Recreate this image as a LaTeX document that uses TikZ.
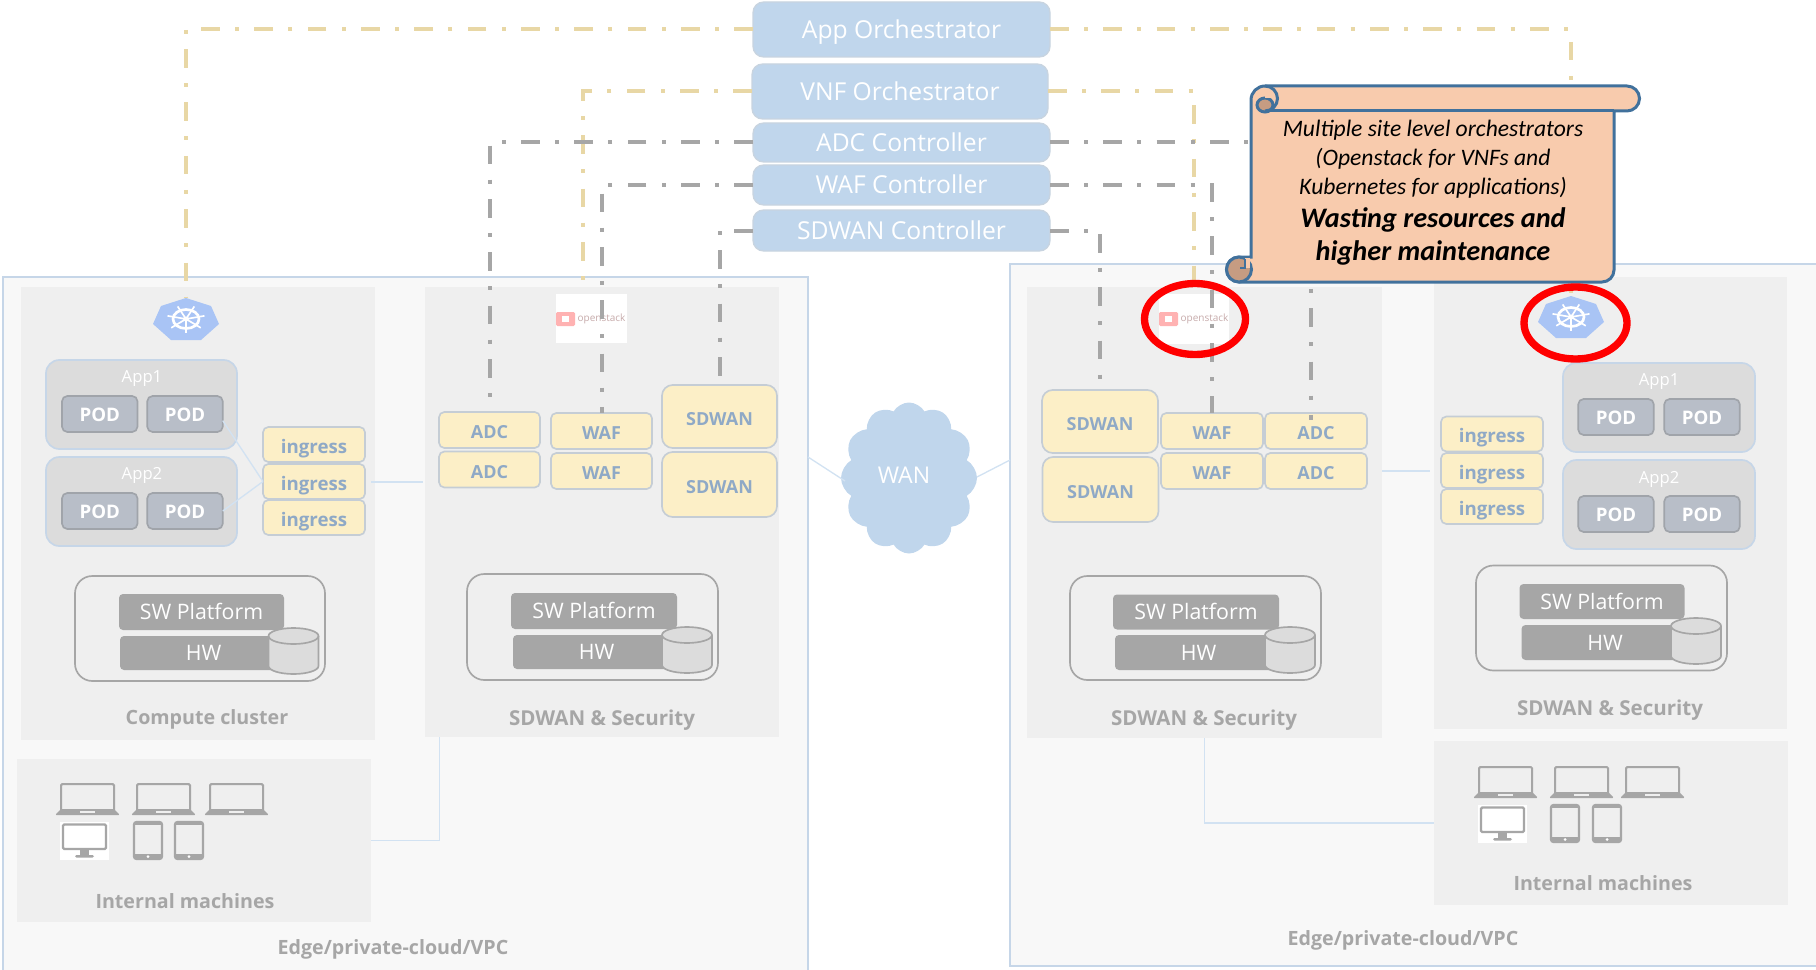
\documentclass[tikz,border=0pt]{standalone}
\usepackage{fontspec}
\setmainfont{Open Sans}
\newfontfamily\notefont{Carlito}
\usetikzlibrary{shapes.geometric,shapes.symbols}
\definecolor{edgefill}{HTML}{F8F8F8}
\definecolor{edgeline}{HTML}{C6D6E8}
\definecolor{panelfill}{HTML}{EFEFEF}
\definecolor{ctrlfill}{HTML}{C0D6EC}
\definecolor{ctrlline}{HTML}{C8D4E0}
\definecolor{vnffill}{HTML}{FCEFC7}
\definecolor{vnfline}{HTML}{C5CDD5}
\definecolor{vnftext}{HTML}{8FA9C6}
\definecolor{appfill}{HTML}{DCDCDC}
\definecolor{podfill}{HTML}{B8BEC8}
\definecolor{podline}{HTML}{A0A4AA}
\definecolor{graybox}{HTML}{A6A6A6}
\definecolor{orchline}{HTML}{E8D7A5}
\definecolor{linkline}{HTML}{D2E2F2}
\definecolor{notefill}{HTML}{F8CBAD}
\definecolor{noteline}{HTML}{41719C}
\definecolor{notefold}{HTML}{C69C82}
\definecolor{kubefill}{HTML}{A9C4F5}
\tikzset{
  wh/.style 2 args={minimum width=#1*.75pt, minimum height=#2*.75pt},
  base/.style={rectangle, inner sep=0pt, outer sep=0pt},
  edgebox/.style={base, fill=edgefill, draw=edgeline, line width=1.5pt},
  panel/.style={base, fill=panelfill},
  ctrlbox/.style={base, rounded corners=8pt, fill=ctrlfill, draw=ctrlline, line width=1pt, text=white, text height=13.5pt, text depth=0pt, font=\fontsize{18.5}{22}\selectfont},
  vnfbox/.style={base, rounded corners=4pt, fill=vnffill, draw=vnfline, line width=1.25pt, text=vnftext, text height=13pt, text depth=0pt, font=\fontsize{13.5}{16}\selectfont\bfseries},
  ingressbox/.style={vnfbox, wh={102}{35}, text height=13pt, font=\fontsize{14}{16}\selectfont\bfseries},
  appbox/.style={base, rounded corners=10pt, fill=appfill, draw=edgeline, line width=1.25pt},
  podbox/.style={base, rounded corners=4pt, fill=podfill, draw=podline, line width=1.25pt, text=white, text height=11.7pt, text depth=0pt, font=\fontsize{14}{16}\selectfont\bfseries, wh={75.5}{36}},
  applabel/.style={base, text=white, text height=9pt, text depth=0pt, font=\fontsize{12.5}{15}\selectfont},
  platform/.style={base, rounded corners=13pt, draw=graybox, line width=1.25pt, wh={250}{105}},
  swbox/.style={base, rounded corners=3pt, fill=graybox, text=white, text height=11.4pt, text depth=0pt, font=\fontsize{16}{19}\selectfont, wh={165}{35}},
  sitelabel/.style={base, text=graybox, text height=10.5pt, text depth=0pt, font=\fontsize{14.75}{17}\selectfont\bfseries},
  seclabel/.style={sitelabel, font=\fontsize{15.4}{18}\selectfont\bfseries},
  orch/.style={orchline, line width=3pt, dash pattern=on 14pt off 11.5pt on 3pt off 11.5pt},
  ctrl/.style={graybox, line width=3pt, dash pattern=on 14pt off 11.5pt on 3pt off 11.5pt},
  link/.style={linkline, line width=1pt},
  scrollline/.style={draw=noteline, line width=2.25pt},
  redmark/.style={ellipse, draw=red, line width=5.5pt, inner sep=0pt},
  logo/.style={base},
}
\newcommand{\kubelogo}[2]{
  \begin{scope}[shift={(#1,#2)}]
  \fill[kubefill] (0,-21) -- (25,-13) -- (33,5) -- (15,21) -- (-15,21) -- (-33,5) -- (-25,-13) -- cycle;
  \draw[white, line width=2pt] (0,0) ellipse (13 and 9.5);
  \foreach \a in {90,141,193,244,296,347,39}
    \draw[white, line width=1.25pt] (0,0) -- ({19*cos(\a)},{14*sin(\a)});
  \fill[white] (0,0) ellipse (3 and 2.5);
  \end{scope}}
\newcommand{\laptopicon}[2]{
  \begin{scope}[shift={(#1,#2)}]
  \draw[graybox, line width=1.5pt, rounded corners=1pt] (6,27) -- (6,1) -- (59,1) -- (59,27);
  \fill[graybox, rounded corners=1pt] (0,32) -- (6,26) -- (59,26) -- (65,32) -- cycle;
  \fill[panelfill] (25,28) rectangle (40,30);
  \end{scope}}
\newcommand{\monitoricon}[2]{
  \begin{scope}[shift={(#1,#2)}]
  \fill[white] (0,0) rectangle (49,38);
  \draw[graybox, line width=1.75pt, rounded corners=1pt] (3,2.5) rectangle (46,27);
  \fill[graybox] (20,27) rectangle (29,33);
  \fill[graybox, rounded corners=1pt] (15,33) rectangle (34,35.5);
  \end{scope}}
\newcommand{\tableticon}[2]{
  \begin{scope}[shift={(#1,#2)}]
  \draw[graybox, line width=1.75pt, rounded corners=2pt] (1,1) rectangle (29,38);
  \fill[graybox] (1,1) rectangle (29,4);
  \fill[graybox] (1,33) rectangle (29,38);
  \fill[white] (15,35.5) circle (1.5);
  \end{scope}}
\newcommand{\diskicon}[2]{
  \begin{scope}[shift={(#1,#2)}]
  \draw[graybox, line width=1.25pt, fill=appfill] (-25,-15) -- (-25,15) arc[start angle=180, end angle=360, x radius=18.75pt, y radius=6pt] -- (25,-15) arc[start angle=0, end angle=180, x radius=18.75pt, y radius=6pt] -- cycle;
  \draw[graybox, line width=1.25pt] (-25,-15) arc[start angle=180, end angle=360, x radius=18.75pt, y radius=6pt];
  \end{scope}}
\begin{document}
\begin{tikzpicture}[thick, x=.75pt, y=-.75pt]
\clip (0,0) rectangle (1816,970);
%%%%%%%%%%%%%%%%%%%%%%%%%%%%%%% Sites
\node[edgebox, wh={805}{708}](edgeL) at (405.5,631){};
\node[edgebox, wh={820}{702}](edgeR) at (1420,615){};
\node[panel, wh={354}{453}](panelCompL) at (198,513.5){};
\node[panel, wh={354}{450}](panelSecL) at (602,512){};
\node[panel, wh={354}{163}](intL) at (194,840.5){};
\node[panel, wh={355}{451}](panelSecR) at (1204.5,512.5){};
\node[panel, wh={353}{452}](panelCompR) at (1610.5,503){};
\node[panel, wh={354}{164}](intR) at (1611,823){};
\node[sitelabel](compLabelL) at (207,717){Compute cluster};
\node[seclabel](secLabelL) at (602,718){SDWAN \& Security};
\node[sitelabel](intLabelL) at (185,901){Internal machines};
\node[sitelabel](edgeLabelL) at (393,947){Edge/private-cloud/VPC};
\node[seclabel](secLabelR) at (1204,718){SDWAN \& Security};
\node[seclabel](secLabelRR) at (1610,708){SDWAN \& Security};
\node[sitelabel](intLabelR) at (1603,883){Internal machines};
\node[sitelabel](edgeLabelR) at (1403,938){Edge/private-cloud/VPC};
%%%%%%%%%%%%%%%%%%%%%%%%%%%%%%% Controllers
\node[ctrlbox, wh={297}{55}](appOrch) at (901.5,29.5){App Orchestrator};
\node[ctrlbox, wh={296}{55}](vnfOrch) at (900,91.5){VNF Orchestrator};
\node[ctrlbox, wh={297}{39}](adcCtl) at (901.5,142.5){ADC Controller};
\node[ctrlbox, wh={297}{40}](wafCtl) at (901.5,185){WAF Controller};
\node[ctrlbox, wh={297}{41}](sdwanCtl) at (901.5,230.5){SDWAN Controller};
%%%%%%%%%%%%%%%%%%%%%%%%%%%%%%% Logos
\node[logo, wh={66}{42}](kubeL) at (186,319){};
\kubelogo{186}{319}
\node[logo, wh={65}{35}](kubeR) at (1571,317){};
\kubelogo{1571}{317}
\node[logo, fill=white, wh={71}{49}](openL) at (591.5,318.5){};
\fill[red!30, rounded corners=1pt] (556,312) rectangle (575,326);
\fill[white] (562,316) rectangle (569,322);
\node[base, text=red!20!gray!55, font=\fontsize{7.5}{9}\selectfont](openTextL) at (601.5,319){openstack};
\node[logo, fill=white, wh={70}{50}](openR) at (1194,319){};
\fill[red!30, rounded corners=1pt] (1159,312) rectangle (1178,326);
\fill[white] (1165,316) rectangle (1172,322);
\node[base, text=red!20!gray!55, font=\fontsize{7.5}{9}\selectfont](openTextR) at (1204.5,319){openstack};
%%%%%%%%%%%%%%%%%%%%%%%%%%%%%%% Left compute cluster
\node[appbox, wh={191}{89}](app1L) at (141.5,404.5){};
\node[appbox, wh={191}{89}](app2L) at (141.5,501.5){};
\node[applabel](app1TextL) at (142,376){App1};
\node[applabel](app2TextL) at (142,473){App2};
\node[podbox](pod11L) at (99.75,414){POD};
\node[podbox](pod12L) at (185,414){POD};
\node[podbox](pod21L) at (99.75,511){POD};
\node[podbox](pod22L) at (185,511){POD};
\node[ingressbox](ing1L) at (314,444.5){ingress};
\node[ingressbox](ing2L) at (314,481.5){ingress};
\node[ingressbox](ing3L) at (314,517.5){ingress};
\node[platform](platCompL) at (200,628.5){};
\node[swbox, wh={165}{36}](swCompL) at (201.5,612){SW Platform};
\node[swbox, wh={167}{34}](hwCompL) at (203.5,653){HW};
\diskicon{293.5}{651}
%%%%%%%%%%%%%%%%%%%%%%%%%%%%%%% Left SDWAN and security
\node[vnfbox, wh={101}{36}](adc1L) at (489.5,430){ADC};
\node[vnfbox, wh={101}{36}](adc2L) at (489.5,469.5){ADC};
\node[vnfbox, wh={101}{36}](waf1L) at (601.5,431){WAF};
\node[vnfbox, wh={101}{36}](waf2L) at (601.5,471){WAF};
\node[vnfbox, rounded corners=8pt, wh={115}{63}](sdwan1L) at (719.5,416.5){SDWAN};
\node[vnfbox, rounded corners=8pt, wh={115}{65}](sdwan2L) at (719.5,484.5){SDWAN};
\node[platform, wh={251}{106}](platSecL) at (592.5,627){};
\node[swbox, wh={166}{36}](swSecL) at (594,611){SW Platform};
\node[swbox, wh={167}{34}](hwSecL) at (596.5,652){HW};
\diskicon{687}{650}
%%%%%%%%%%%%%%%%%%%%%%%%%%%%%%% Right SDWAN and security
\node[vnfbox, rounded corners=8pt, wh={116}{63}](sdwan1R) at (1100,421.5){SDWAN};
\node[vnfbox, rounded corners=8pt, wh={116}{65}](sdwan2R) at (1100.5,489.5){SDWAN};
\node[vnfbox, wh={102}{36}](waf1R) at (1212,431){WAF};
\node[vnfbox, wh={102}{36}](waf2R) at (1212,471){WAF};
\node[vnfbox, wh={102}{36}](adc1R) at (1316,431){ADC};
\node[vnfbox, wh={102}{36}](adc2R) at (1316,471){ADC};
\node[platform, wh={251}{104}](platSecR) at (1195.5,628){};
\node[swbox, wh={166}{35}](swSecR) at (1196,612){SW Platform};
\node[swbox, wh={167}{35}](hwSecR) at (1198.5,652.5){HW};
\diskicon{1290}{650}
%%%%%%%%%%%%%%%%%%%%%%%%%%%%%%% Right compute cluster
\node[ingressbox](ing1R) at (1492,434){ingress};
\node[ingressbox](ing2R) at (1492,470.5){ingress};
\node[ingressbox](ing3R) at (1492,506.5){ingress};
\node[appbox, wh={192}{89}](app1R) at (1659,407.5){};
\node[appbox, wh={192}{89}](app2R) at (1659,504.5){};
\node[applabel](app1TextR) at (1659,379){App1};
\node[applabel](app2TextR) at (1659,477){App2};
\node[podbox](pod11R) at (1616,417){POD};
\node[podbox](pod12R) at (1702,417){POD};
\node[podbox](pod21R) at (1616,514){POD};
\node[podbox](pod22R) at (1702,514){POD};
\node[platform, wh={251}{105}](platCompR) at (1601.5,618){};
\node[swbox](swCompR) at (1602,601.5){SW Platform};
\node[swbox, wh={167}{35}](hwCompR) at (1605,642.5){HW};
\diskicon{1696}{641}
%%%%%%%%%%%%%%%%%%%%%%%%%%%%%%% Internal machines
\laptopicon{55}{783}
\laptopicon{131}{783}
\laptopicon{204}{783}
\monitoricon{60}{822}
\tableticon{133}{821}
\tableticon{174}{821}
\laptopicon{1473}{766}
\laptopicon{1549}{766}
\laptopicon{1620}{766}
\monitoricon{1478}{805}
\tableticon{1550}{804}
\tableticon{1592}{804}
%%%%%%%%%%%%%%%%%%%%%%%%%%%%%%% WAN
\node[cloud, cloud puffs=12, cloud puff arc=120, aspect=.9, inner sep=0pt, outer sep=0pt, fill=ctrlfill, wh={136}{151}](wan) at (909,478){};
\node[base, text=white, text height=12.3pt, text depth=0pt, font=\fontsize{17.3}{20}\selectfont](wanText) at (904,475){WAN};
\coordinate (wanEndL) at (845,481);
\coordinate (edgeEndL) at (808,457);
\coordinate (edgeEndR) at (1010,460);
\coordinate (wanEndR) at (977,477);
\draw[link] (edgeEndL) -- (wanEndL);
\draw[link] (wanEndR) -- (edgeEndR);
%%%%%%%%%%%%%%%%%%%%%%%%%%%%%%% Links inside the sites
\coordinate (intEndL) at (439.5,737);
\draw[link] (pod12L.-10) -- (ing2L.west);
\draw[link] (pod22L.east) -- (ing2L.west);
\draw[link, line width=1.5pt, shorten <=4.5pt, shorten >=1.5pt] (ing2L.east) -- (ing2L.east -| panelSecL.west);
\draw[link] (intL.east) -| (intEndL);
\draw[link, line width=1.5pt, shorten >=8pt] (panelSecR.east |- ing2R.west) -- (ing2R.west);
\draw[link] (panelSecR.south) |- (intR.west);
%%%%%%%%%%%%%%%%%%%%%%%%%%%%%%% Orchestrator and controller links
\coordinate (adcEndR) at (1311,420);
\coordinate (vnfEndL) at (582.5,294);
\draw[orch] (appOrch.west) -| (kubeL.north);
\draw[orch] (appOrch.east) -| (kubeR.north);
\draw[orch] (vnfOrch.west) -| (vnfEndL);
\draw[orch] (vnfOrch.east) -| (openR.north);
\draw[ctrl] (adcCtl.west) -| (adc1L.north);
\draw[ctrl] (adcCtl.east) -| (adcEndR);
\draw[ctrl] (wafCtl.west) -| (waf1L.north);
\draw[ctrl] (wafCtl.east) -| (waf1R.north);
\draw[ctrl] (sdwanCtl.west) -| (sdwan1L.north);
\draw[ctrl] (sdwanCtl.east) -| (sdwan1R.north);
%%%%%%%%%%%%%%%%%%%%%%%%%%%%%%% Note
\draw[scrollline, fill=notefill] (1251,100) arc[start angle=180, end angle=90, radius=10.5pt] -- (1627,86) arc[start angle=90, end angle=-90, radius=9.375pt] -- (1614,111) -- (1614,270) arc[start angle=0, end angle=-90, radius=9pt] -- (1239,282) arc[start angle=-90, end angle=-270, radius=9.375pt] -- (1251,257) -- cycle;
\draw[scrollline] (1265,111) -- (1614,111);
\draw[scrollline, fill=notefold] (1265,105) ellipse (8 and 7);
\fill[notefill] (1265,92) rectangle (1280,98);
\draw[scrollline] (1265,86) arc[start angle=90, end angle=-90, radius=9.375pt];
\draw[scrollline, fill=notefold] (1239,269.5) circle (12.5);
\fill[notefill] (1245,258) rectangle (1250,268);
\draw[scrollline, line width=1.75pt] (1240,268) -- (1245,268) -- (1245,259);
\node[base, align=center, font=\notefont\itshape\fontsize{17.7}{21.75}\selectfont](noteText) at (1433,159.5){Multiple site level orchestrators\\(Openstack for VNFs and\\Kubernetes for applications)};
\node[base, align=center, font=\notefont\itshape\bfseries\fontsize{21.2}{24.75}\selectfont](noteBold) at (1433,236.5){Wasting resources and\\higher maintenance};
\node[redmark, minimum width=101*.75pt, minimum height=71*.75pt](markOpen) at (1195,319){};
\node[redmark, minimum width=103*.75pt, minimum height=72*.75pt](markKube) at (1575.5,323){};
\end{tikzpicture}
\end{document}
